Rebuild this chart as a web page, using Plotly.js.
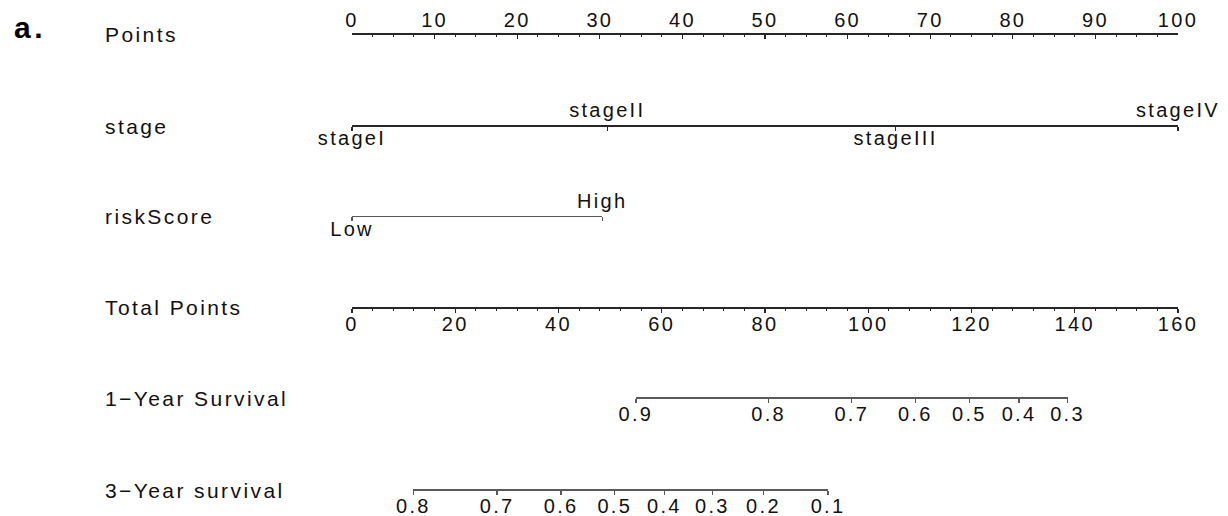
<!DOCTYPE html>
<html>
<head>
<meta charset="utf-8">
<script src="https://cdn.plot.ly/plotly-3.0.1.min.js"></script>
<style>
html,body{margin:0;padding:0;background:#fff;}
text{letter-spacing:0.115em;}
</style>
</head>
<body>
<div id="chart" style="width:1228px;height:516px;"></div>
<script>
// ---- data ----
const rowLabels = ["Points", "stage", "riskScore", "Total Points", "1\u2212Year Survival", "3\u2212Year survival"];
const pointsRange = [0, 100];
const totalRange = [0, 160];
const stageLevels = ["stageI", "stageII", "stageIII", "stageIV"];
const stagePoints = [0, 30.9, 65.8, 100];
const riskLevels = ["Low", "High"];
const riskPoints = [0, 30.3];
const surv1Prob = [0.9, 0.8, 0.7, 0.6, 0.5, 0.4, 0.3];
const surv1Total = [55.0, 80.7, 96.8, 109.1, 119.6, 129.2, 138.6];
const surv3Prob = [0.8, 0.7, 0.6, 0.5, 0.4, 0.3, 0.2, 0.1];
const surv3Total = [11.9, 28.1, 40.5, 50.9, 60.5, 69.8, 79.7, 92.2];

// ---- layout helpers ----
const FONT = "Liberation Sans, Arial, Helvetica, sans-serif";
const W = 1228, H = 516;
const ML = 352, MR = 50;
const rowY = [33, 125, 215.7, 306.7, 397.3, 489];
const ABOVE = -13, BELOW = 15;          // pixel offsets of level labels
const pos = py => 1 - py / H;
const pxToPaper = px => (px - ML) / (W - ML - MR);
const darkLine = "#262626";
const grayLine = "#5a5a5a";
const txtCol = "#111111";
const TICK_SIZE = 20, LABEL_SIZE = 21;

const baseAxis = {
  showline: true, linecolor: darkLine, linewidth: 1.8,
  ticks: "outside", ticklen: 4, tickwidth: 1.3, tickcolor: darkLine,
  showgrid: false, zeroline: false, fixedrange: true,
  ticklabelstandoff: -6,
  tickfont: {family: FONT, size: TICK_SIZE, color: txtCol}
};

const levelTrace = (axis, xs, labels, y) => ({
  x: xs, y: labels.map((_, i) => y + (i % 2 === 0 ? BELOW : ABOVE)),
  xaxis: axis, yaxis: "y", mode: "text", text: labels, textposition: "middle center",
  textfont: {family: FONT, size: TICK_SIZE, color: txtCol}, cliponaxis: false,
  hoverinfo: "skip", showlegend: false
});
const carrier = (axis, xs) => ({
  x: xs, y: xs.map(() => null), xaxis: axis, yaxis: "y", mode: "markers",
  marker: {opacity: 0}, hoverinfo: "skip", showlegend: false
});

const traces = [
  carrier("x", pointsRange),
  carrier("x2", totalRange),
  levelTrace("x3", stagePoints, stageLevels, rowY[1]),
  levelTrace("x4", riskPoints, riskLevels, rowY[2]),
  carrier("x5", surv1Total),
  carrier("x6", surv3Total)
];

const last = a => a[a.length - 1];

const layout = {
  width: W, height: H,
  margin: {l: ML, r: MR, t: 0, b: 0, pad: 0},
  paper_bgcolor: "#ffffff", plot_bgcolor: "rgba(0,0,0,0)",
  showlegend: false,
  font: {family: FONT, size: TICK_SIZE, color: txtCol},
  yaxis: {range: [H, 0], domain: [0, 1], visible: false, fixedrange: true},
  xaxis: Object.assign({}, baseAxis, {
    range: pointsRange, domain: [0, 1], anchor: "free", position: pos(rowY[0]),
    side: "top", ticks: "inside", ticklabelstandoff: -2, tickmode: "linear", tick0: 0, dtick: 10,
    minor: {dtick: 2.5, tick0: 0, ticks: "inside", ticklen: 2, tickwidth: 1, tickcolor: darkLine, showgrid: false}
  }),
  xaxis2: Object.assign({}, baseAxis, {
    range: totalRange, overlaying: "x", anchor: "free", position: pos(rowY[3]),
    side: "bottom", tickmode: "linear", tick0: 0, dtick: 20,
    minor: {dtick: 4, tick0: 0, ticks: "outside", ticklen: 2, tickwidth: 1, tickcolor: darkLine, showgrid: false}
  }),
  xaxis3: Object.assign({}, baseAxis, {
    range: pointsRange, overlaying: "x", anchor: "free", position: pos(rowY[1]),
    side: "bottom", tickmode: "array", tickvals: stagePoints, showticklabels: false
  }),
  xaxis4: Object.assign({}, baseAxis, {
    range: [riskPoints[0], last(riskPoints)],
    domain: [riskPoints[0] / pointsRange[1], last(riskPoints) / pointsRange[1]],
    anchor: "free", position: pos(rowY[2]), side: "bottom",
    linewidth: 1.3, linecolor: grayLine, tickcolor: grayLine,
    tickmode: "array", tickvals: riskPoints, showticklabels: false
  }),
  xaxis5: Object.assign({}, baseAxis, {
    range: [surv1Total[0], last(surv1Total)],
    domain: [surv1Total[0] / totalRange[1], last(surv1Total) / totalRange[1]],
    anchor: "free", position: pos(rowY[4]), side: "bottom",
    linecolor: grayLine, tickcolor: grayLine,
    tickmode: "array", tickvals: surv1Total, ticktext: surv1Prob.map(String)
  }),
  xaxis6: Object.assign({}, baseAxis, {
    range: [surv3Total[0], last(surv3Total)],
    domain: [surv3Total[0] / totalRange[1], last(surv3Total) / totalRange[1]],
    anchor: "free", position: pos(rowY[5]), side: "bottom",
    linecolor: grayLine, tickcolor: grayLine,
    tickmode: "array", tickvals: surv3Total, ticktext: surv3Prob.map(String)
  }),
  annotations: rowLabels.map((t, i) => ({
    text: t, xref: "paper", yref: "y", x: pxToPaper(103), y: rowY[i] + 1,
    xanchor: "left", yanchor: "middle", showarrow: false,
    font: {family: FONT, size: LABEL_SIZE, color: txtCol}
  })).concat([{
    text: "<b>a.</b>", xref: "paper", yref: "y", x: pxToPaper(12), y: 27,
    xanchor: "left", yanchor: "middle", showarrow: false,
    font: {family: FONT, size: 30, color: "#000000"}
  }])
};

Plotly.newPlot("chart", traces, layout, {displayModeBar: false, staticPlot: true});
</script>
</body>
</html>
